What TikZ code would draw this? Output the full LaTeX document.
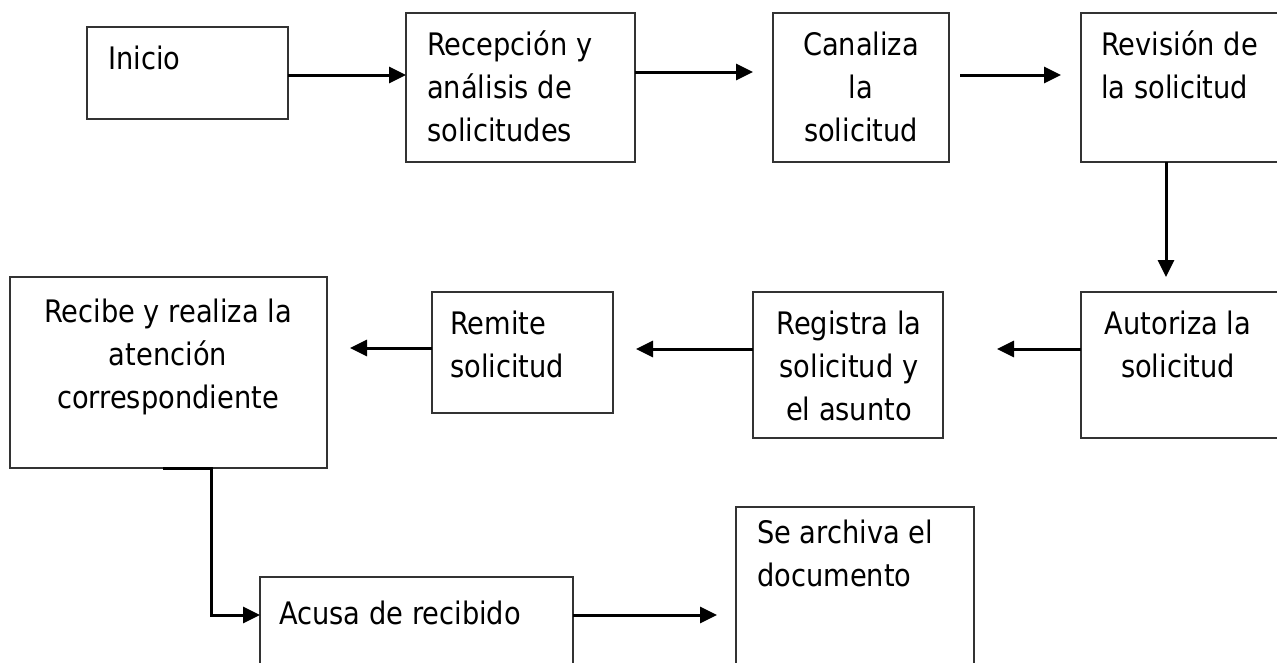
\documentclass[tikz,border=0pt]{standalone}
\usepackage{fontspec}
\setmainfont{DejaVu Sans}[FakeStretch=0.88]
\usetikzlibrary{arrows.meta}
\newcommand\centtxt[1]{\vtop{\halign{\hfil##\hfil\cr#1\crcr}}}
\newcommand\lefttxt[1]{\vtop{\halign{##\hfil\cr#1\crcr}}}
\begin{document}
\begin{tikzpicture}[x=1pt,y=-1pt,
  box/.style={draw=black!80, line width=1.3pt, inner sep=0pt, outer sep=0pt, anchor=north west},
  txt/.style={inner sep=0pt, font=\fontsize{31}{43}\selectfont},
  arr/.style={line width=3pt, -{Triangle[length=17pt,width=16pt]}}]
\useasboundingbox[fill=white] (0,0) rectangle (1277,662);
% boxes
\node[box, minimum width=201pt, minimum height=92pt]  (inicio)  at (87,27) {};
\node[box, minimum width=229pt, minimum height=149pt] (recep)   at (406,13) {};
\node[box, minimum width=176pt, minimum height=149pt] (canal)   at (773,13) {};
\node[box, minimum width=220pt, minimum height=149pt] (revis)   at (1081,13) {};
\node[box, minimum width=220pt, minimum height=146pt] (autor)   at (1081,292) {};
\node[box, minimum width=190pt, minimum height=146pt] (regis)   at (753,292) {};
\node[box, minimum width=181pt, minimum height=121pt] (remite)  at (432,292) {};
\node[box, minimum width=317pt, minimum height=191pt] (recibe)  at (10,277) {};
\node[box, minimum width=313pt, minimum height=120pt] (acusa)   at (260,577) {};
\node[box, minimum width=238pt, minimum height=200pt] (archiva) at (736,507) {};
% texts
\node[txt, anchor=base west] (tinicio) at (108,69) {Inicio};
\node[txt, anchor=base west] (trecep) at (427,55) {\lefttxt{Recepción y\cr análisis de\cr solicitudes}};
\node[txt, anchor=base] (tcanal) at (861,55) {\centtxt{Canaliza\cr la\cr solicitud}};
\node[txt, anchor=base west] (trevis) at (1101,55) {\lefttxt{Revisión de\cr la solicitud}};
\node[txt, anchor=base] (tautor) at (1178,334) {\centtxt{Autoriza la\cr solicitud}};
\node[txt, anchor=base] (tregis) at (849,334) {\centtxt{Registra la\cr solicitud y\cr el asunto}};
\node[txt, anchor=base west] (tremite) at (450,334) {\lefttxt{Remite\cr solicitud}};
\node[txt, anchor=base] (trecibe) at (168,322) {\centtxt{Recibe y realiza la\cr atención\cr correspondiente}};
\node[txt, anchor=base west] (tacusa) at (279,624) {Acusa de recibido};
\node[txt, anchor=base west] (tarchiva) at (757,543) {\lefttxt{Se archiva el\cr documento}};
% connectors
\draw[arr] (inicio.east |- 0,75) -- (recep.west |- 0,75);
\draw[arr, shorten >=20pt] (recep.east |- 0,72) -- (canal.west |- 0,72);
\draw[arr, shorten <=11pt, shorten >=20pt] (canal.east |- 0,75) -- (revis.west |- 0,75);
\draw[arr, shorten >=15pt] (revis.south -| 1166,0) -- (autor.north -| 1166,0);
\draw[arr, shorten >=54pt] (autor.west |- 0,349) -- (regis.east |- 0,349);
\draw[arr, shorten >=23pt] (regis.west |- 0,349) -- (remite.east |- 0,349);
\draw[arr, shorten >=23pt] (remite.west |- 0,348) -- (recibe.east |- 0,348);
\coordinate (bend) at (211,615);
\draw[arr] (recibe.south -| 163,0) -- (recibe.south -| bend) -- (bend) -- (acusa.west |- bend);
\draw[arr, shorten >=19pt] (acusa.east |- bend) -- (archiva.west |- bend);
\end{tikzpicture}
\end{document}
